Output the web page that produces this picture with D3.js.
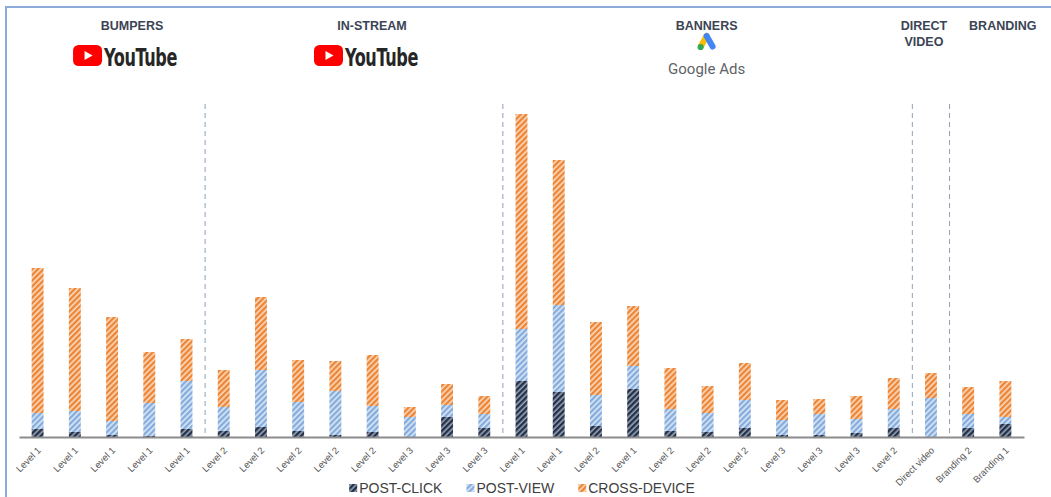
<!DOCTYPE html>
<html>
<head>
<meta charset="utf-8">
<script src="https://cdn.jsdelivr.net/npm/d3@7"></script>
<style>
  body { margin: 0; background: #fff; }
  svg { display: block; }
</style>
</head>
<body>
<svg id="chart" width="1051" height="497"></svg>
<script>
// Campaign conversions per line item, split by attribution type
const labels = [
  "Level 1", "Level 1", "Level 1", "Level 1", "Level 1",
  "Level 2", "Level 2", "Level 2", "Level 2", "Level 2",
  "Level 3", "Level 3", "Level 3",
  "Level 1", "Level 1", "Level 2", "Level 1", "Level 2", "Level 2", "Level 2",
  "Level 3", "Level 3", "Level 3", "Level 2",
  "Direct video",
  "Branding 2", "Branding 1"
];
const postClick   = [8, 5, 2, 1, 8, 6, 10, 6, 2, 5, 0, 20, 9, 56, 45, 11, 48, 6, 5, 9, 2, 2, 4, 9, 0, 9, 13];
const postView    = [16, 21, 14, 33, 48, 24, 57, 29, 44, 26, 20, 12, 14, 52, 87, 31, 23, 22, 19, 28, 15, 21, 14, 19, 39, 14, 7];
const crossDevice = [145, 123, 104, 51, 42, 37, 73, 42, 30, 51, 10, 21, 18, 215, 145, 73, 60, 41, 27, 37, 20, 15, 23, 31, 25, 27, 36];
const seriesNames = ["POST-CLICK", "POST-VIEW", "CROSS-DEVICE"];
const seriesKeys  = ["click", "view", "cross"];

// Channel groups (inclusive bar index ranges)
const groupNames  = [["BUMPERS"], ["IN-STREAM"], ["BANNERS"], ["DIRECT", "VIDEO"], ["BRANDING"]];
const groupStart  = [0, 5, 13, 24, 25];
const groupEnd    = [4, 12, 23, 24, 26];
const groupLogos  = ["youtube", "youtube", "googleads", null, null];

const W = 1051, H = 497;
const svg = d3.select("#chart");

const rows = labels.map((l, i) => ({
  i, label: l, click: postClick[i], view: postView[i], cross: crossDevice[i]
}));

// hatch patterns: coloured diagonal stripes on a pale tint
const hatch = {
  click: { fg: "#22304a", bg: "#9ba5b4" },
  view:  { fg: "#84acdc", bg: "#dfe9f6" },
  cross: { fg: "#ec8535", bg: "#fbdcc2" }
};
const defs = svg.append("defs");
seriesKeys.forEach(k => {
  const p = defs.append("pattern")
    .attr("id", "hatch-" + k)
    .attr("patternUnits", "userSpaceOnUse")
    .attr("width", 4).attr("height", 4)
    .attr("patternTransform", "rotate(45)");
  p.append("rect").attr("width", 4).attr("height", 4).attr("fill", hatch[k].bg);
  p.append("rect").attr("width", 2.4).attr("height", 4).attr("fill", hatch[k].fg);
});

svg.append("rect").attr("width", W).attr("height", H).attr("fill", "#fff");

// frame
svg.append("path")
  .attr("d", `M6,${H + 5} V7 H${W + 5}`)
  .attr("fill", "none")
  .attr("stroke", "#8eaadb")
  .attr("stroke-width", 2);

const baseY = 437;
const x = d3.scaleBand()
  .domain(d3.range(labels.length))
  .range([19, 1024])
  .paddingInner(0.68)
  .paddingOuter(0.34);
const y = d3.scaleLinear().domain([0, 330]).range([baseY, baseY - 330]);

// group dividers
const step = x.step();
groupEnd.slice(0, -1).forEach(e => {
  const dx = x(e) + x.bandwidth() + step * x.paddingInner() / 2;
  svg.append("line")
    .attr("x1", dx).attr("x2", dx)
    .attr("y1", 104).attr("y2", baseY)
    .attr("stroke", "#8ea0b8")
    .attr("stroke-width", 1)
    .attr("stroke-dasharray", "5,4");
});

// stacked bars
const stack = d3.stack().keys(seriesKeys)(rows);
svg.append("g").selectAll("g")
  .data(stack)
  .join("g")
  .attr("fill", d => `url(#hatch-${d.key})`)
  .selectAll("rect")
  .data(d => d)
  .join("rect")
  .attr("x", d => x(d.data.i))
  .attr("width", x.bandwidth())
  .attr("y", d => y(d[1]))
  .attr("height", d => y(d[0]) - y(d[1]));

// category axis
const axis = d3.axisBottom(x).tickSize(0).tickFormat(i => labels[i]);
const gx = svg.append("g").attr("transform", `translate(0,${baseY})`).call(axis);
gx.select(".domain").attr("stroke", "#8c8c8c").attr("stroke-width", 2);
gx.selectAll("text")
  .attr("font-family", "Arial, 'Liberation Sans', sans-serif")
  .attr("font-size", 9.5)
  .attr("fill", "#595959")
  .attr("text-anchor", "end")
  .attr("dy", null)
  .attr("y", null)
  .attr("transform", "translate(4,14) rotate(-45)");

// group headers
const headerFont = "Arial, 'Liberation Sans', sans-serif";
const headerShift = [20, 18, -1, -7, 16];
const logoShift = [13, 12, -1, 0, 0];
groupNames.forEach((lines, g) => {
  const mid = (x(groupStart[g]) + x(groupEnd[g]) + x.bandwidth()) / 2;
  const t = svg.append("text")
    .attr("x", mid + headerShift[g])
    .attr("y", 30)
    .attr("text-anchor", "middle")
    .attr("font-family", headerFont)
    .attr("font-weight", "bold")
    .attr("font-size", 12.5)
    .attr("fill", "#3b4454");
  lines.forEach((ln, k) => {
    t.append("tspan").attr("x", mid + headerShift[g]).attr("dy", k ? 16 : 0).text(ln);
  });

  const cx = mid + logoShift[g];
  if (groupLogos[g] === "youtube") {
    const lg = svg.append("g").attr("transform", `translate(${cx - 52},45)`);
    lg.append("rect")
      .attr("width", 29).attr("height", 21).attr("rx", 5.5)
      .attr("fill", "#ff0000");
    lg.append("path").attr("d", "M11.5,6 L11.5,15 L19.5,10.5 Z").attr("fill", "#fff");
    lg.append("text")
      .attr("x", 31).attr("y", 20.5)
      .attr("font-family", "'Liberation Sans Narrow', 'DejaVu Sans Condensed', 'Arial Narrow', sans-serif")
      .attr("font-weight", "bold")
      .attr("font-size", 25)
      .attr("letter-spacing", -0.5)
      .attr("fill", "#262626")
      .attr("textLength", 73)
      .attr("lengthAdjust", "spacingAndGlyphs")
      .text("YouTube");
  } else if (groupLogos[g] === "googleads") {
    const ga = svg.append("g").attr("transform", `translate(${cx},42)`);
    ga.append("line").attr("x1", 0).attr("y1", -6).attr("x2", -5.5).attr("y2", 4)
      .attr("stroke", "#fbbc04").attr("stroke-width", 6).attr("stroke-linecap", "round");
    ga.append("line").attr("x1", 0).attr("y1", -6).attr("x2", 6).attr("y2", 4.5)
      .attr("stroke", "#4285f4").attr("stroke-width", 6).attr("stroke-linecap", "round");
    ga.append("circle").attr("cx", -6).attr("cy", 5).attr("r", 3.1).attr("fill", "#34a853");
    svg.append("text")
      .attr("x", cx).attr("y", 74)
      .attr("text-anchor", "middle")
      .attr("font-family", "Roboto, 'Open Sans', sans-serif")
      .attr("font-size", 15)
      .attr("fill", "#5f6368")
      .text("Google Ads");
  }
});

// legend
const legend = svg.append("g").attr("transform", "translate(0,493)");
const items = legend.selectAll("g").data(seriesKeys).join("g");
items.append("rect")
  .attr("y", -9).attr("width", 8).attr("height", 8)
  .attr("fill", d => `url(#hatch-${d})`);
items.append("text")
  .attr("x", 10)
  .attr("font-family", "Arial, 'Liberation Sans', sans-serif")
  .attr("font-size", 14)
  .attr("fill", "#404040")
  .text((d, i) => seriesNames[i]);
let lx = 0;
const offsets = [];
items.each(function () {
  offsets.push(lx);
  lx += 10 + d3.select(this).select("text").node().getComputedTextLength() + 24;
});
const total = lx - 24;
const startX = 522 - total / 2;
items.attr("transform", (d, i) => `translate(${startX + offsets[i]},0)`);
</script>
</body>
</html>
